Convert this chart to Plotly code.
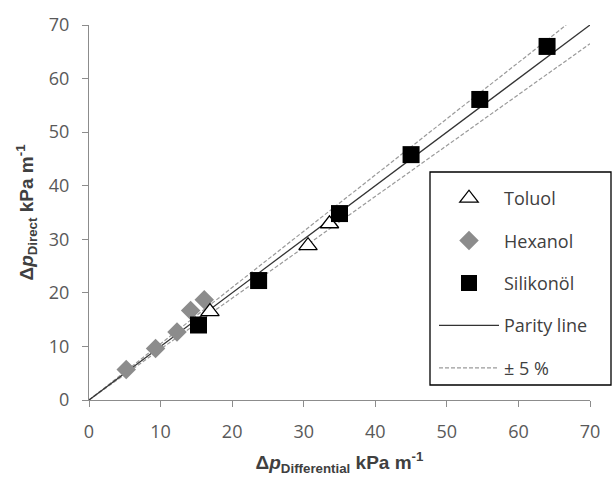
import plotly.graph_objects as go

toluol_x = [16.9, 30.6, 33.6]
toluol_y = [16.5, 28.8, 32.9]
hexanol_x = [5.2, 9.3, 12.3, 14.2, 16.1]
hexanol_y = [5.7, 9.6, 12.7, 16.7, 18.7]
silikon_x = [15.3, 23.7, 35.0, 45.0, 54.6, 64.0]
silikon_y = [14.0, 22.3, 34.8, 45.8, 56.1, 66.0]
parity_x = [0, 70]
upper_x = [0, 70 / 1.05]
lower_x = [0, 70]
tick_vals = [0, 10, 20, 30, 40, 50, 60, 70]

fig = go.Figure()
fig.add_trace(go.Scatter(x=upper_x, y=[v * 1.05 for v in upper_x], mode="lines",
                         line=dict(color="#9a9a9a", width=1.2, dash="4px,2px"),
                         showlegend=False, hoverinfo="skip"))
fig.add_trace(go.Scatter(x=lower_x, y=[v * 0.95 for v in lower_x], mode="lines",
                         line=dict(color="#9a9a9a", width=1.2, dash="4px,2px"),
                         name="± 5 %", legendgroup="e", legendrank=5))
fig.add_trace(go.Scatter(x=parity_x, y=parity_x, mode="lines",
                         line=dict(color="#333333", width=1.3),
                         name="Parity line", legendgroup="d", legendrank=4))
fig.add_trace(go.Scatter(x=hexanol_x, y=hexanol_y, mode="markers",
                         marker=dict(symbol="diamond", size=15, color="#8c8c8c"),
                         name="Hexanol", legendgroup="b", legendrank=2))
fig.add_trace(go.Scatter(x=toluol_x, y=toluol_y, mode="markers",
                         marker=dict(symbol="triangle-up", size=16, color="white",
                                     line=dict(color="black", width=1.3)),
                         name="Toluol", legendgroup="a", legendrank=1))
fig.add_trace(go.Scatter(x=silikon_x, y=silikon_y, mode="markers",
                         marker=dict(symbol="square", size=17, color="black"),
                         name="Silikonöl", legendgroup="c", legendrank=3))

axis_common = dict(range=[0, 70], tickvals=tick_vals, showline=True, linecolor="#8c8c8c",
                   linewidth=1, ticks="outside", ticklen=6, tickcolor="#8c8c8c",
                   showgrid=False, zeroline=False, ticklabelstandoff=9, automargin=False,
                   tickfont=dict(family="Open Sans, DejaVu Sans", size=18, color="#595959"))
title_font = dict(family="Liberation Sans, Arial", size=19, color="#404040")
fig.update_xaxes(**axis_common,
                 title=dict(text="<b>Δ<i>p</i><sub>Differential</sub> kPa m<sup>-1</sup></b>",
                            font=title_font, standoff=14))
fig.update_yaxes(**axis_common,
                 title=dict(text="<b>Δ<i>p</i><sub>Direct</sub> kPa m<sup>-1</sup></b>",
                            font=title_font, standoff=10))

# legend frame
fig.add_shape(type="rect", xref="paper", yref="paper",
              x0=(430 - 89) / 501, x1=(611 - 89) / 501,
              y0=(400 - 385) / 375, y1=(400 - 172) / 375,
              line=dict(color="black", width=1.3), fillcolor="white", layer="above")

fig.update_layout(
    width=613, height=478,
    margin=dict(l=89, r=23, t=25, b=78),
    plot_bgcolor="white", paper_bgcolor="white",
    legend=dict(x=(434 - 89) / 501, y=(400 - 180) / 375, xanchor="left", yanchor="top",
                borderwidth=0, bgcolor="rgba(0,0,0,0)",
                tracegroupgap=16, itemwidth=60,
                font=dict(family="Open Sans, DejaVu Sans", size=18, color="#404040")),
)
fig.write_html("out.html")
